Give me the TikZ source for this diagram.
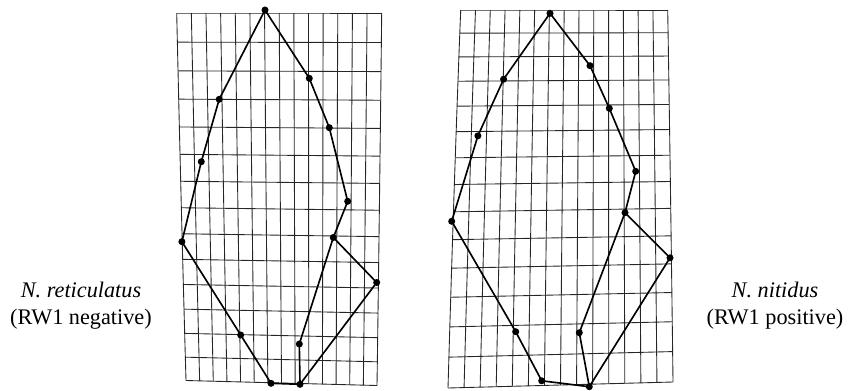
\documentclass[tikz,border=0pt]{standalone}
\usepackage{fontspec}
\setmainfont{Liberation Serif}
\usepackage{tikz}
\usetikzlibrary{positioning}

\begin{document}
\begin{tikzpicture}[
      x=0.03cm, y=-0.03cm,
      griglia/.style={line width=0.75pt, black!85},
      contorno/.style={line width=1.4pt, black, line join=round},
      lbl/.style={font=\fontsize{19}{23}\selectfont, align=center}
    ]
    \useasboundingbox (0,0) rectangle (848,390);

    % Griglie deformate: angoli, curvatura e inclinazione delle righe
    \foreach \xa/\xb/\xc/\xd/\ya/\yb/\bw/\tl in {176.7/381.7/186/377/13/383/44/5, 460.7/667.7/448/673/10/385/-58/-6} {
      \foreach \i in {0,...,14}
        \draw[griglia] plot[variable=\t, domain=0:1, samples=15]
          ({\xa+(\xc-\xa)*\t+((\xb-\xa)+((\xd-\xb)-(\xc-\xa))*\t)*\i/14},
           {\ya+(\yb-\ya)*\t+(\bw)*\t*(1-\t)+(\tl)*(\i/14-0.5)*\t});
      \foreach \j in {0,...,14} {
        \pgfmathsetmacro\tt{\j/14}
        \draw[griglia] plot[variable=\u, domain=0:1, samples=3]
          ({\xa+(\xc-\xa)*\tt+((\xb-\xa)+((\xd-\xb)-(\xc-\xa))*\tt)*\u},
           {\ya+(\yb-\ya)*\tt+(\bw)*\tt*(1-\tt)+(\tl)*(\u-0.5)*\tt});
      }
    }

    % Landmark N. reticulatus
    \coordinate (rt1) at (265,10);
    \coordinate (rt2) at (309.3,78.3);
    \coordinate (rt3) at (329.3,127.7);
    \coordinate (rt4) at (347.7,201.3);
    \coordinate (rt5) at (333.3,237.5);
    \coordinate (rt6) at (299.3,344);
    \coordinate (rt7) at (300,384.3);
    \coordinate (rt8) at (271,383.3);
    \coordinate (rt9) at (240.7,335);
    \coordinate (rt10) at (181.9,241.7);
    \coordinate (rt11) at (201.3,161.7);
    \coordinate (rt12) at (219.2,99.3);
    \coordinate (rt13) at (376.7,282.5);

    % Landmark N. nitidus
    \coordinate (nt1) at (550,13.3);
    \coordinate (nt2) at (590,65.7);
    \coordinate (nt3) at (609.3,108.3);
    \coordinate (nt4) at (635.7,171.3);
    \coordinate (nt5) at (625,212.7);
    \coordinate (nt6) at (579.3,332.7);
    \coordinate (nt7) at (589.3,386.7);
    \coordinate (nt8) at (541.7,380.8);
    \coordinate (nt9) at (515.7,331.7);
    \coordinate (nt10) at (451.7,221.3);
    \coordinate (nt11) at (477.9,135.8);
    \coordinate (nt12) at (503.6,79.2);
    \coordinate (nt13) at (670,257.8);

    % Contorni e punti
    \foreach \s in {rt, nt} {
      \draw[contorno] (\s1) -- (\s2) -- (\s3) -- (\s4) -- (\s5) -- (\s6) -- (\s7)
        -- (\s8) -- (\s9) -- (\s10) -- (\s11) -- (\s12) -- cycle;
      \draw[contorno] (\s5) -- (\s13) -- (\s7);
      \foreach \n in {1,...,13} \fill[black] (\s\n) circle (3pt);
    }

    % Etichette
    \node[lbl] (retic) at (81,306) {\textit{N. reticulatus}\\(RW1 negative)};
    \node[lbl] (nitid) at (775,306) {\textit{N. nitidus}\\(RW1 positive)};
  \end{tikzpicture}
\end{document}
